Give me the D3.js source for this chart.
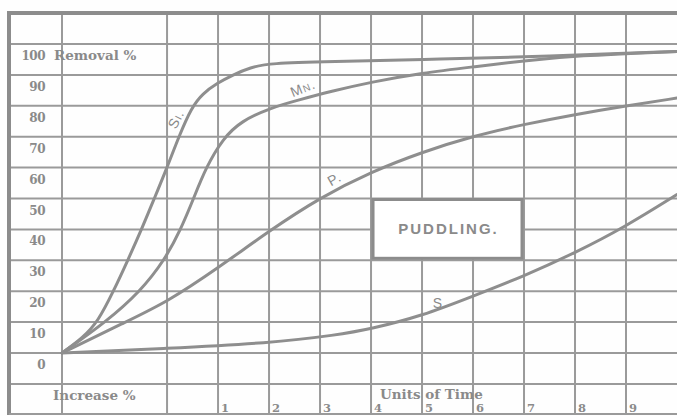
<!DOCTYPE html>
<html>
<head>
<meta charset="utf-8">
<script src="https://cdn.jsdelivr.net/npm/d3@7"></script>
<style>
  body { margin: 0; background: #ffffff; }
  svg { display: block; }
  .grid line { stroke: #9a9a9a; stroke-width: 2px; }
  .curve { fill: none; stroke: #8e8e8e; stroke-width: 3px; stroke-linecap: round; }
  .lbl { font-family: "DejaVu Serif", serif; font-weight: bold; fill: #8a8a8a; }
  .clbl { font-family: "Liberation Sans", Arial, sans-serif; fill: #8a8a8a; }
</style>
</head>
<body>
<svg id="chart" width="677" height="416"></svg>
<script>

// removal % values, x in units of time (origin sits two columns left of 0)
var si_pts = [[-2.06,0],[-1.65,5],[-1.36,10],[-1.05,20],[-0.77,30],[-0.5,40],[-0.25,50],[0,60],
              [0.23,70],[0.48,79.5],[0.7,84],[0.98,87.3],[1.29,90],[1.63,92.4],[2.02,93.8],
              [3.2,94.3],[5,95],[7,95.8],[8,96.4],[10,97.6]];
var mn_pts = [[-2.06,0],[-1.2,10],[-0.52,20],[-0.05,30],[0.27,40],[0.52,50],[0.76,60],[1.1,69.5],
              [1.45,75],[2.02,79.3],[2.61,82],[3.2,84.6],[4,87.7],[5,90.6],[6,92.6],
              [7,94.6],[8,96.2],[10,97.6]];
var p_pts  = [[-2.06,0],[-0.82,10],[0,16.5],[1,27.5],[2,39.5],[3,50.3],[4,58.6],[5,65],
              [6,70.2],[7,74],[8,77.2],[9,80],[10,82.5]];
var s_pts  = [[-2.06,0],[0,1.5],[2,3.2],[3.33,5.8],[4,7.8],[5,12],[6,18.4],[7,24.9],
              [8,32.4],[9,41],[10,51.3]];

var removal_ticks = [100,90,80,70,60,50,40,30,20,10,0];
var time_ticks    = [1,2,3,4,5,6,7,8,9];
var row_lines     = [110,100,90,80,70,60,50,40,30,20,10,0,-10];
var col_lines     = [-2.06,0,1,2,3,4,5,6,7,8,9];

var svg = d3.select("#chart");
var W = +svg.attr("width"), H = +svg.attr("height");

var x = d3.scaleLinear().domain([-2.06, 10]).range([62, 677]);
var y = d3.scaleLinear().domain([0, 100]).range([353, 44]);

var top_y = y(110), bot_y = 414, left_x = 9;

svg.append("rect").attr("width", W).attr("height", H).attr("fill", "#fefefe");

// ruled grid
var grid = svg.append("g").attr("class", "grid");
grid.selectAll("line.h").data(row_lines).enter().append("line")
    .attr("x1", left_x).attr("x2", W)
    .attr("y1", function(d){ return y(d); })
    .attr("y2", function(d){ return y(d); });
grid.selectAll("line.v").data(col_lines).enter().append("line")
    .attr("x1", function(d){ return x(d); })
    .attr("x2", function(d){ return x(d); })
    .attr("y1", top_y).attr("y2", bot_y);

// heavy frame (left, top, bottom)
svg.append("line").attr("x1", left_x).attr("x2", left_x).attr("y1", top_y - 2).attr("y2", bot_y + 1)
    .attr("stroke", "#8c8c8c").attr("stroke-width", 4);
svg.append("line").attr("x1", left_x - 2).attr("x2", W).attr("y1", top_y).attr("y2", top_y)
    .attr("stroke", "#8c8c8c").attr("stroke-width", 4);
svg.append("line").attr("x1", left_x).attr("x2", W).attr("y1", bot_y).attr("y2", bot_y)
    .attr("stroke", "#9a9a9a").attr("stroke-width", 2);

// left value column
svg.append("g").selectAll("text").data(removal_ticks).enter().append("text")
    .attr("class", "lbl")
    .attr("x", 45)
    .attr("y", function(d){ return y(d) + 16; })
    .attr("text-anchor", "end")
    .attr("font-size", 12)
    .attr("letter-spacing", -0.5)
    .text(function(d){ return d; });

svg.append("text").attr("class", "lbl").attr("x", 54).attr("y", y(100) + 16)
    .attr("font-size", 13.5).text("Removal %");

svg.append("text").attr("class", "lbl").attr("x", 53).attr("y", 400)
    .attr("font-size", 13.5).text("Increase %");

svg.append("text").attr("class", "lbl").attr("x", 380).attr("y", 399)
    .attr("font-size", 13.5).text("Units of Time");

// time labels along the bottom
svg.append("g").selectAll("text").data(time_ticks).enter().append("text")
    .attr("class", "lbl")
    .attr("x", function(d){ return x(d) + 3; })
    .attr("y", 412)
    .attr("font-size", 11.5)
    .attr("font-weight", "normal")
    .text(function(d){ return d; });

// title box
var bx0 = x(4) + 2, bx1 = x(7) - 2, by0 = y(50) + 1, by1 = y(30) - 2;
svg.append("rect").attr("x", bx0).attr("y", by0)
    .attr("width", bx1 - bx0).attr("height", by1 - by0)
    .attr("fill", "#ffffff").attr("stroke", "#8c8c8c").attr("stroke-width", 3);
svg.append("text").attr("class", "clbl")
    .attr("x", (bx0 + bx1) / 2 + 1).attr("y", (by0 + by1) / 2 + 5)
    .attr("text-anchor", "middle").attr("font-size", 15).attr("font-weight", "bold")
    .attr("letter-spacing", 2)
    .text("PUDDLING.");

// curves
var line = d3.line()
    .x(function(d){ return x(d[0]); })
    .y(function(d){ return y(d[1]); })
    .curve(d3.curveBasis);

[si_pts, mn_pts, p_pts, s_pts].forEach(function(pts){
    svg.append("path").datum(pts).attr("class", "curve").attr("d", line);
});

// curve names
function curve_label(txt, ux, uv, rot, size){
    svg.append("text").attr("class", "clbl")
        .attr("transform", "translate(" + x(ux) + "," + y(uv) + ") rotate(" + rot + ")")
        .attr("text-anchor", "middle")
        .attr("font-size", size)
        .style("font-variant", "small-caps")
        .attr("letter-spacing", 1)
        .text(txt);
}
curve_label("Si.", 0.26, 75, -63, 14);
curve_label("Mn.", 2.7, 84.3, -22, 14);
curve_label("P.", 3.33, 55, -30, 14);
curve_label("S.", 5.36, 14.5, 0, 14);

</script>
</body>
</html>
